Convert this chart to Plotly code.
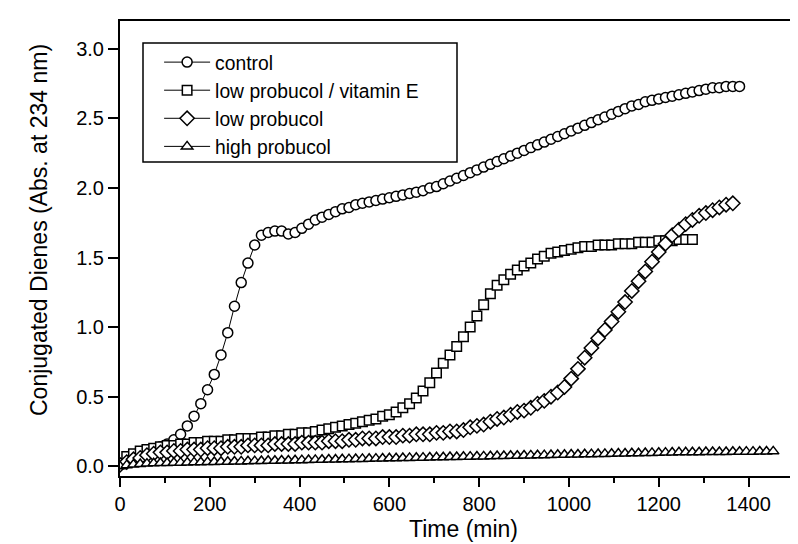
import plotly.graph_objects as go

# ---- data (time in min, conjugated dienes absorbance at 234 nm) ----
step = 15
control = [0.02, 0.04, 0.06, 0.08, 0.10, 0.12, 0.14, 0.16, 0.19, 0.23,
           0.29, 0.36, 0.45, 0.55, 0.66, 0.80, 0.96, 1.15, 1.32, 1.46,
           1.59, 1.66, 1.68, 1.69, 1.69, 1.67, 1.68, 1.71, 1.74, 1.77,
           1.79, 1.81, 1.83, 1.85, 1.86, 1.88, 1.89, 1.90, 1.91, 1.92,
           1.93, 1.94, 1.95, 1.96, 1.97, 1.98, 2.00, 2.01, 2.03, 2.05,
           2.07, 2.09, 2.11, 2.13, 2.15, 2.17, 2.19, 2.21, 2.23, 2.25,
           2.27, 2.29, 2.31, 2.33, 2.35, 2.37, 2.39, 2.41, 2.43, 2.45,
           2.47, 2.49, 2.51, 2.53, 2.55, 2.57, 2.59, 2.60, 2.62, 2.63,
           2.64, 2.65, 2.66, 2.67, 2.68, 2.69, 2.70, 2.71, 2.72, 2.72,
           2.73, 2.73, 2.73]

low_probucol_vitE = [0.02, 0.07, 0.09, 0.11, 0.12, 0.13, 0.14, 0.15, 0.15, 0.16,
                     0.16, 0.17, 0.17, 0.18, 0.18, 0.18, 0.19, 0.19, 0.20, 0.20,
                     0.20, 0.21, 0.21, 0.22, 0.22, 0.23, 0.23, 0.24, 0.24, 0.25,
                     0.26, 0.27, 0.28, 0.29, 0.30, 0.31, 0.32, 0.33, 0.34, 0.36,
                     0.37, 0.39, 0.42, 0.45, 0.49, 0.54, 0.60, 0.67, 0.74, 0.80,
                     0.86, 0.93, 1.00, 1.08, 1.16, 1.24, 1.30, 1.34, 1.38, 1.41,
                     1.44, 1.46, 1.49, 1.51, 1.53, 1.54, 1.55, 1.56, 1.57, 1.58,
                     1.58, 1.59, 1.59, 1.59, 1.60, 1.60, 1.60, 1.61, 1.61, 1.61,
                     1.62, 1.62, 1.62, 1.63, 1.63, 1.63]

low_probucol = [0.01, 0.03, 0.05, 0.06, 0.08, 0.09, 0.10, 0.10, 0.11, 0.11,
                0.12, 0.12, 0.12, 0.13, 0.13, 0.13, 0.14, 0.14, 0.14, 0.15,
                0.15, 0.15, 0.15, 0.16, 0.16, 0.16, 0.16, 0.17, 0.17, 0.17,
                0.17, 0.18, 0.18, 0.18, 0.19, 0.19, 0.20, 0.20, 0.20, 0.21,
                0.21, 0.21, 0.22, 0.22, 0.23, 0.23, 0.23, 0.24, 0.24, 0.25,
                0.25, 0.26, 0.28, 0.29, 0.30, 0.32, 0.34, 0.35, 0.37, 0.39,
                0.40, 0.42, 0.45, 0.47, 0.50, 0.53, 0.57, 0.63, 0.70, 0.78,
                0.85, 0.92, 0.98, 1.04, 1.11, 1.18, 1.26, 1.33, 1.40, 1.47,
                1.54, 1.60, 1.66, 1.70, 1.74, 1.77, 1.80, 1.82, 1.84, 1.86,
                1.88, 1.89]

high_probucol = [0.000, 0.008, 0.013, 0.016, 0.019, 0.021, 0.023, 0.024, 0.025, 0.026,
                 0.027, 0.028, 0.029, 0.030, 0.031, 0.032, 0.033, 0.034, 0.035, 0.036,
                 0.037, 0.038, 0.039, 0.040, 0.041, 0.042, 0.043, 0.044, 0.045, 0.046,
                 0.047, 0.048, 0.049, 0.050, 0.051, 0.052, 0.053, 0.054, 0.055, 0.056,
                 0.057, 0.058, 0.059, 0.060, 0.061, 0.062, 0.063, 0.064, 0.065, 0.066,
                 0.067, 0.068, 0.069, 0.070, 0.071, 0.072, 0.073, 0.074, 0.075, 0.076,
                 0.077, 0.078, 0.079, 0.080, 0.081, 0.082, 0.083, 0.084, 0.085, 0.086,
                 0.087, 0.088, 0.089, 0.090, 0.091, 0.092, 0.093, 0.094, 0.095, 0.096,
                 0.097, 0.098, 0.099, 0.100, 0.100, 0.101, 0.101, 0.102, 0.102, 0.103,
                 0.103, 0.104, 0.104, 0.105, 0.105, 0.106, 0.106, 0.107]

series = [
    ("control", control, "circle", 10),
    ("low probucol / vitamin E", low_probucol_vitE, "square", 9.5),
    ("low probucol", low_probucol, "diamond", 11),
    ("high probucol", high_probucol, "triangle-up", 10),
]

x_ticks = [0, 200, 400, 600, 800, 1000, 1200, 1400]
y_ticks = [0.0, 0.5, 1.0, 1.5, 2.0, 2.5, 3.0]
y_ticklabels = ["0.0", "0.5", "1.0", "1.5", "2.0", "2.5", "3.0"]
x_title = "Time (min)"
y_title = "Conjugated Dienes (Abs. at 234 nm)"

FONT = "Liberation Sans, Arial, Helvetica, sans-serif"

fig = go.Figure()
for name, vals, sym, size in series:
    times = [i * step for i in range(len(vals))]
    fig.add_trace(go.Scatter(
        x=times, y=vals, name=name, mode="lines+markers",
        line=dict(color="black", width=1),
        marker=dict(symbol=sym, size=size, color="white",
                    line=dict(color="black", width=1.5)),
    ))

fig.update_layout(
    width=798, height=544,
    margin=dict(l=112, r=0, t=13, b=76, autoexpand=False),
    paper_bgcolor="white", plot_bgcolor="white",
    font=dict(family=FONT, color="black", size=19),
    showlegend=True,
    legend=dict(
        x=0.057, y=0.9515, xanchor="left", yanchor="top",
        borderwidth=0, bgcolor="rgba(0,0,0,0)",
        font=dict(size=19.3, family=FONT),
        itemwidth=46,
    ),
    shapes=[dict(
        type="rect", xref="paper", yref="paper",
        x0=(135 - 112) / 686, x1=(449 - 112) / 686,
        y0=(468 - 154) / 455, y1=(468 - 35) / 455,
        line=dict(color="black", width=1.5), fillcolor="white", layer="above",
    )],
    annotations=[
        dict(text=y_title, textangle=-90, xref="paper", yref="paper",
             x=(31 - 112) / 686, y=(468 - 222) / 455, xanchor="center", yanchor="middle",
             showarrow=False, font=dict(size=23, family=FONT)),
        dict(text=x_title, xref="paper", yref="paper",
             x=0.5, y=(468 - 521) / 455, xanchor="center", yanchor="middle",
             showarrow=False, font=dict(size=23, family=FONT)),
    ],
)
fig.update_xaxes(
    range=[0, 1528], tickvals=x_ticks, automargin=False,
    showgrid=False, zeroline=False,
    showline=True, linecolor="black", linewidth=2, mirror=True,
    ticks="outside", ticklen=9, tickwidth=2, tickcolor="black",
    minor=dict(dtick=100, tick0=0, ticks="outside", ticklen=5, tickwidth=2, tickcolor="black"),
    tickfont=dict(size=20),
)
fig.update_yaxes(
    range=[-0.07, 3.2], tickvals=y_ticks, ticktext=y_ticklabels, automargin=False,
    showgrid=False, zeroline=False,
    showline=True, linecolor="black", linewidth=2,
    ticks="outside", ticklen=10, tickwidth=2, tickcolor="black",
    tickfont=dict(size=20),
)

fig.write_html("out.html")
